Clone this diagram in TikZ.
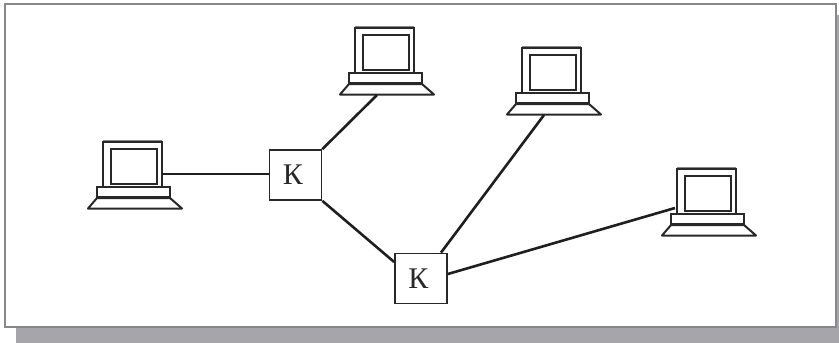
\documentclass[tikz,border=0pt]{standalone}
\usepackage{fontspec}
\setmainfont{Liberation Serif}
\usepackage{xcolor}
\definecolor{framegray}{RGB}{135,135,140}
\definecolor{shadowgray}{RGB}{166,166,170}
\definecolor{inkgray}{RGB}{40,40,40}
\tikzset{
    switchbox/.style={draw=inkgray, line width=1.7pt, fill=white, minimum width=52pt, minimum height=50pt, inner sep=0pt, text=inkgray, font=\fontsize{30}{30}\selectfont},
    screenbox/.style={draw=inkgray, line width=2pt, fill=white, minimum width=46pt, minimum height=35pt, inner sep=0pt},
    link/.style={line width=2.6pt, draw=black!88},
    pics/laptop/.style={code={
        \draw[line width=1.6pt, inkgray] (0,0) rectangle (59,45);
        \draw[line width=1.2pt, framegray] (0,-1.5) -- (59,-1.5);
        \node[screenbox, anchor=north west] (-screen) at (6.5,6) {};
        \draw[line width=1.7pt, inkgray] (-6,45) rectangle (67,55);
        \draw[line width=2pt, inkgray, line join=round] (-6,56) -- (-15,66.5) -- (79,66.5) -- (67,56) -- cycle;
        \coordinate (-foot) at (22,67);
        \coordinate (-side) at (59,32);
        \coordinate (-left) at (-2,39);
    }}
}
\begin{document}
\begin{tikzpicture}[x=1pt, y=-1pt]
    \useasboundingbox (0,0) rectangle (839,343);

    % Frame
    \fill[shadowgray] (16,15) rectangle (839,343);
    \draw[line width=2pt, framegray, fill=white] (5,3.5) rectangle (836,327);

    % Laptops
    \pic (lapa) at (103,142) {laptop};
    \pic (lapb) at (355,28) {laptop};
    \pic (lapc) at (522,48) {laptop};
    \pic (lapd) at (677,169) {laptop};

    % Switches
    \node[switchbox] (swa) at (295.5,175) {\kern-5pt К};
    \node[switchbox] (swb) at (421,278.5) {\kern-5pt К};

    % Links
    \draw[link] (lapa-side) -- (swa.west |- lapa-side);
    \draw[link] (lapb-foot) -- (swa.north east);
    \draw[link] (swa.south east) -- ([yshift=16.5pt]swb.west);
    \draw[link] (lapc-foot) -- ([xshift=20pt]swb.north);
    \draw[link] (lapd-left) -- ([yshift=4.5pt]swb.east);
\end{tikzpicture}
\end{document}
